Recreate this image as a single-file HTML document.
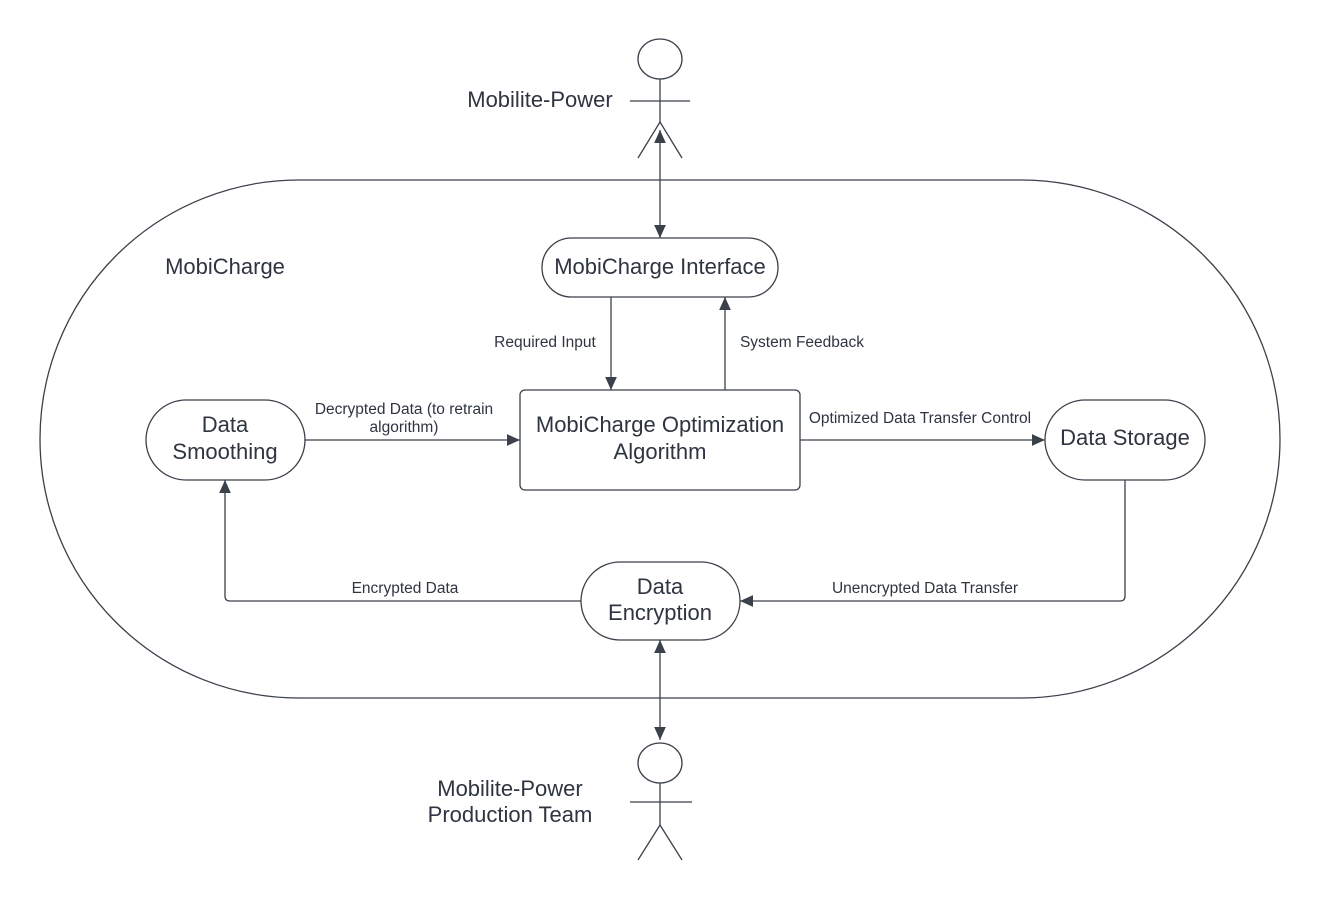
<!DOCTYPE html>
<html><head><meta charset="utf-8"><style>
html,body{margin:0;padding:0;background:#fff;}
svg{display:block;}
text{font-family:"Liberation Sans",sans-serif;fill:#2e3440;}
</style></head><body>
<svg width="1320" height="908" viewBox="0 0 1320 908" xmlns="http://www.w3.org/2000/svg">
<defs>
<marker id="a" viewBox="0 0 10 10" refX="10" refY="5" markerWidth="13" markerHeight="13" markerUnits="userSpaceOnUse" orient="auto-start-reverse">
<path d="M0,0.5 L10,5 L0,9.5 z" fill="#3a414a"/>
</marker>
</defs>
<g fill="none" stroke="#3a414a" stroke-width="1.3">
<rect x="40" y="180" width="1240" height="518" rx="259" ry="259"/>
<ellipse cx="660" cy="59" rx="22" ry="20"/>
<line x1="660" y1="79" x2="660" y2="122"/>
<line x1="630" y1="101" x2="690" y2="101"/>
<line x1="660" y1="122" x2="638" y2="158"/>
<line x1="660" y1="122" x2="682" y2="158"/>
<ellipse cx="660" cy="763" rx="22" ry="20"/>
<line x1="660" y1="783" x2="660" y2="825"/>
<line x1="630" y1="802" x2="692" y2="802"/>
<line x1="660" y1="825" x2="638" y2="860"/>
<line x1="660" y1="825" x2="682" y2="860"/>
<rect x="542" y="238" width="236" height="59" rx="29.5" fill="#fff"/>
<rect x="520" y="390" width="280" height="100" rx="5" fill="#fff"/>
<rect x="146" y="400" width="159" height="80" rx="40" fill="#fff"/>
<rect x="1045" y="400" width="160" height="80" rx="40" fill="#fff"/>
<rect x="581" y="562" width="159" height="78" rx="39" fill="#fff"/>
<line x1="660" y1="130" x2="660" y2="238" marker-start="url(#a)" marker-end="url(#a)"/>
<line x1="611" y1="297" x2="611" y2="390" marker-end="url(#a)"/>
<line x1="725" y1="390" x2="725" y2="297" marker-end="url(#a)"/>
<line x1="305" y1="440" x2="520" y2="440" marker-end="url(#a)"/>
<line x1="800" y1="440" x2="1045" y2="440" marker-end="url(#a)"/>
<path d="M1125,480 V596 Q1125,601 1120,601 H740" marker-end="url(#a)"/>
<path d="M581,601 H230 Q225,601 225,596 V480" marker-end="url(#a)"/>
<line x1="660" y1="640" x2="660" y2="740" marker-start="url(#a)" marker-end="url(#a)"/>
</g>
<g font-size="22" text-anchor="middle">
<text x="540" y="107">Mobilite-Power</text>
<text x="225" y="274">MobiCharge</text>
<text x="660" y="274">MobiCharge Interface</text>
<text x="660" y="432">MobiCharge Optimization</text>
<text x="660" y="459">Algorithm</text>
<text x="225" y="432">Data</text>
<text x="225" y="459">Smoothing</text>
<text x="1125" y="445">Data Storage</text>
<text x="660" y="594">Data</text>
<text x="660" y="620">Encryption</text>
<text x="510" y="796">Mobilite-Power</text>
<text x="510" y="822">Production Team</text>
</g>
<g font-size="15.5" text-anchor="middle">
<text x="545" y="347">Required Input</text>
<text x="802" y="347">System Feedback</text>
<text x="404" y="414">Decrypted Data (to retrain</text>
<text x="404" y="432">algorithm)</text>
<text x="920" y="423">Optimized Data Transfer Control</text>
<text x="405" y="593">Encrypted Data</text>
<text x="925" y="593">Unencrypted Data Transfer</text>
</g>
</svg>
</body></html>
